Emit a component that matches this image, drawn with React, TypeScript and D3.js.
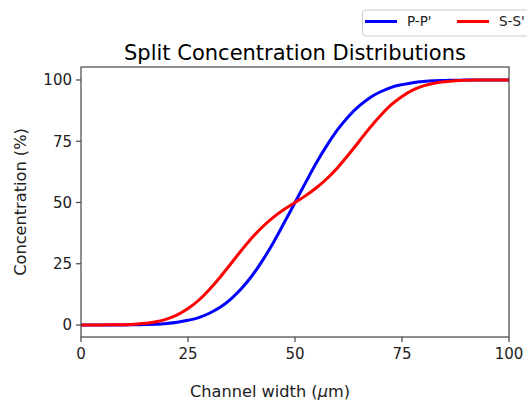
import React from 'react'
import * as d3 from 'd3'

// channel positions (um) where the curves were read
const positions = [0, 2.5, 5, 7.5, 10, 12.5, 15, 17.5, 20, 22.5, 25, 27.5, 30, 32.5, 35, 37.5, 40, 42.5, 45, 47.5, 50,
  52.5, 55, 57.5, 60, 62.5, 65, 67.5, 70, 72.5, 75, 77.5, 80, 82.5, 85, 87.5, 90, 92.5, 95, 97.5, 100]

// P-P' concentration (%)
const ppValues = [0, 0, 0, 0, 0, 0.1, 0.2, 0.3, 0.6, 1.1, 1.9, 3.0, 4.8, 7.2, 10.6, 14.9, 20.2, 26.6, 33.8, 41.8, 50,
  58.2, 66.2, 73.4, 79.8, 85.1, 89.4, 92.8, 95.2, 97.0, 98.1, 98.9, 99.4, 99.7, 99.8, 99.9, 100, 100, 100, 100, 100]

// S-S' concentration (%)
const ssValues = [0, 0, 0, 0.1, 0.1, 0.3, 0.7, 1.3, 2.4, 4.1, 6.7, 10.1, 14.5, 19.5, 25.0, 30.5, 35.7, 40.2, 44.0, 47.2, 50,
  52.8, 56.0, 59.8, 64.3, 69.5, 75.0, 80.5, 85.5, 89.9, 93.3, 95.9, 97.6, 98.7, 99.3, 99.7, 99.9, 100, 100, 100, 100]

const xTicks = [0, 25, 50, 75, 100]
const yTicks = [0, 25, 50, 75, 100]

const seriesNames = ["P-P'", "S-S'"]
const seriesColors = ['#0000ff', '#ff0000']

const W = 527
const H = 400
const margin = { left: 81, right: 18, top: 67, bottom: 63 }
const font = 'DejaVu Sans, sans-serif'

export default function App() {
  const x = d3.scaleLinear().domain([0, 100]).range([margin.left, W - margin.right])
  const y = d3.scaleLinear().domain([-4.9, 105.3]).range([H - margin.bottom, margin.top])

  const line = d3.line<number>()
    .x((_, i) => x(positions[i]))
    .y((d) => y(d))
    .curve(d3.curveMonotoneX)

  const series = [ppValues, ssValues]
  const axisColor = '#444'

  return (
    <div style={{ position: 'absolute', left: 0, top: 0 }}>
      <svg width={W} height={H} style={{ display: 'block', background: '#fff' }} fontFamily={font}>
        <text x={(margin.left + W - margin.right) / 2} y={60} textAnchor="middle" fontSize={21} fill="#000">
          Split Concentration Distributions
        </text>

        {series.map((vals, k) => (
          <path key={k} d={line(vals) || ''} fill="none" stroke={seriesColors[k]} strokeWidth={3} />
        ))}

        {/* frame */}
        <rect x={margin.left} y={margin.top} width={W - margin.right - margin.left}
          height={H - margin.bottom - margin.top} fill="none" stroke={axisColor} strokeWidth={1.2} />

        {xTicks.map((t) => (
          <g key={'x' + t}>
            <line x1={x(t)} x2={x(t)} y1={H - margin.bottom} y2={H - margin.bottom + 5} stroke={axisColor} strokeWidth={1.2} />
            <text x={x(t)} y={359} textAnchor="middle" fontSize={15} fill="#222">{t}</text>
          </g>
        ))}
        {yTicks.map((t) => (
          <g key={'y' + t}>
            <line x1={margin.left - 5} x2={margin.left} y1={y(t)} y2={y(t)} stroke={axisColor} strokeWidth={1.2} />
            <text x={margin.left - 9} y={y(t)} dy="0.36em" textAnchor="end" fontSize={15} fill="#222">{t}</text>
          </g>
        ))}

        <text x={270} y={397} textAnchor="middle" fontSize={16.2} fill="#222">
          Channel width (<tspan fontStyle="italic">μ</tspan>m)
        </text>
        <text transform={`translate(25.5,${(margin.top + H - margin.bottom) / 2}) rotate(-90)`}
          textAnchor="middle" fontSize={16.2} fill="#222">
          Concentration (%)
        </text>

        {/* legend */}
        <rect x={362.5} y={10} width={180} height={26} rx={3} fill="#fff" stroke="#ccc" strokeWidth={1} />
        {seriesNames.map((n, k) => (
          <g key={n} transform={`translate(${365 + k * 92},21.5)`}>
            <line x1={0} x2={32} y1={0} y2={0} stroke={seriesColors[k]} strokeWidth={3} />
            <text x={42} y={0} dy="0.36em" fontSize={13.5} fill="#222">{n}</text>
          </g>
        ))}
      </svg>
    </div>
  )
}
